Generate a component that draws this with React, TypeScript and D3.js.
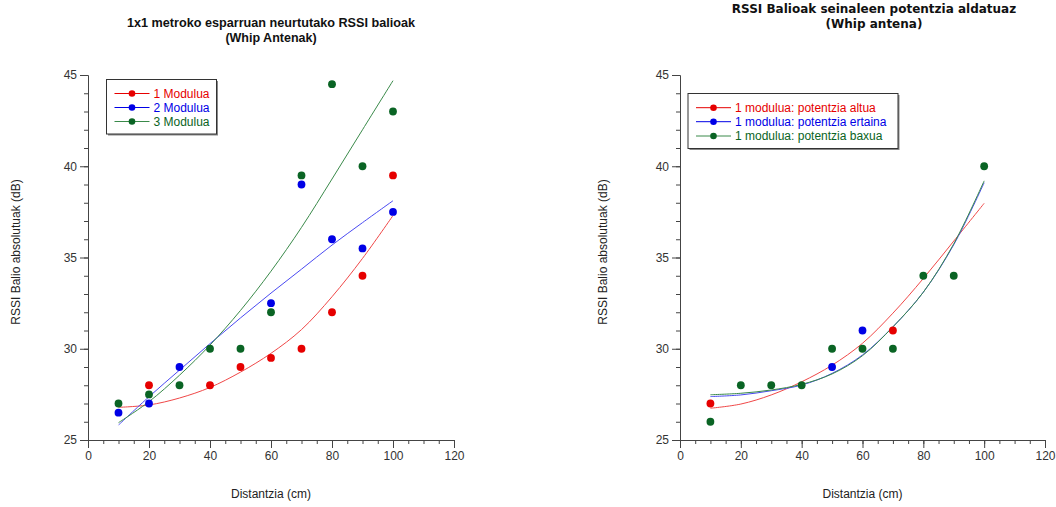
import React, { useEffect, useRef } from 'react';
import * as d3 from 'd3';

// ---------- shared axes ----------
const distances = [10, 20, 30, 40, 50, 60, 70, 80, 90, 100];
const xTicks = [0, 20, 40, 60, 80, 100, 120];
const yTicks = [25, 30, 35, 40, 45];
const xLabel = 'Distantzia (cm)';
const yLabel = 'RSSI Balio absolutuak (dB)';

// ---------- left chart ----------
const leftTitle = ['1x1 metroko esparruan neurtutako RSSI balioak', '(Whip Antenak)'];
const leftNames = ['1 Modulua', '2 Modulua', '3 Modulua'];
const modulua1 = [null, 28, null, 28, 29, 29.5, 30, 32, 34, 39.5];
const modulua2 = [26.5, 27, 29, null, null, 32.5, 39, 36, 35.5, 37.5];
const modulua3 = [27, 27.5, 28, 30, 30, 32, 39.5, 44.5, 40, 43];
// fitted curves
const modulua1Fit = [26.79, 26.92, 27.3, 27.88, 28.72, 29.75, 31.05, 32.85, 34.95, 37.3];
const modulua2Fit = [25.82, 27.37, 28.83, 30.28, 31.69, 33.05, 34.36, 35.68, 36.91, 38.11];
const modulua3Fit = [25.95, 27.1, 28.55, 30.2, 32.1, 34.25, 36.65, 39.3, 42.0, 44.69];

// ---------- right chart ----------
const rightTitle = ['RSSI Balioak seinaleen potentzia aldatuaz', '(Whip antena)'];
const rightNames = ['1 modulua: potentzia altua', '1 modulua: potentzia ertaina', '1 modulua: potentzia baxua'];
const altua = [27, null, null, null, null, null, 31, null, null, null];
const ertaina = [null, null, null, null, 29, 31, null, null, null, null];
const baxua = [26, 28, 28, 28, 30, 30, 30, 34, 34, 40];
const altuaFit = [26.74, 26.97, 27.47, 28.19, 29.1, 30.3, 31.95, 33.85, 35.9, 37.97];
const ertainaFit = [27.38, 27.47, 27.7, 28.01, 28.65, 29.66, 31.2, 33.1, 35.7, 39.1];
const baxuaFit = [27.48, 27.56, 27.74, 28.05, 28.62, 29.62, 31.2, 33.1, 35.75, 39.2];

const pointColors = ['#e60000', '#0000e6', '#0a6424'];
const lineColors = ['#f04848', '#4a4af2', '#3a8a4a'];
const legendLineColors = ['#e60000', '#0000e6', '#3a8a4a'];

const FONT = '"Liberation Sans", Arial, sans-serif';

type PanelProps = {
  x0: number;
  x1: number;
  yTop: number;
  yBottom: number;
  title: string[];
  titleX: number;
  titleY: number[];
  titleFont: string;
  titleSize: number;
  titleLength?: number;
  series: (number | null)[][];
  fits: number[][];
  names: string[];
  legend: { x: number; y: number; w: number; h: number; rowY: number[] };
  yLabelX: number;
};

function Panel(p: PanelProps) {
  const xAxisRef = useRef<SVGGElement>(null);
  const xMinorRef = useRef<SVGGElement>(null);
  const yAxisRef = useRef<SVGGElement>(null);
  const yMinorRef = useRef<SVGGElement>(null);

  const x = d3.scaleLinear().domain([0, 120]).range([p.x0, p.x1]);
  const y = d3.scaleLinear().domain([25, 45]).range([p.yBottom, p.yTop]);

  useEffect(() => {
    const xa = d3.axisBottom(x).tickValues(xTicks).tickSize(8).tickSizeOuter(0).tickPadding(3).tickFormat(d3.format('d'));
    const xm = d3.axisBottom(x).tickValues(d3.range(0, 121, 5)).tickSize(4).tickSizeOuter(0).tickFormat(() => '');
    const ya = d3.axisLeft(y).tickValues(yTicks).tickSize(8).tickSizeOuter(0).tickPadding(3).tickFormat(d3.format('d'));
    const ym = d3.axisLeft(y).tickValues(d3.range(25, 45.01, 1)).tickSize(4).tickSizeOuter(0).tickFormat(() => '');
    const style = (g: d3.Selection<SVGGElement, unknown, null, undefined>) => {
      g.selectAll('path').attr('stroke', '#444').attr('stroke-width', 1);
      g.selectAll('line').attr('stroke', '#444').attr('stroke-width', 1);
      g.selectAll('text').attr('fill', '#333').attr('font-size', 12).attr('font-family', FONT);
    };
    d3.select(xMinorRef.current!).call(xm as any).call(style as any);
    d3.select(xAxisRef.current!).call(xa as any).call(style as any);
    d3.select(yMinorRef.current!).call(ym as any).call(style as any);
    d3.select(yAxisRef.current!).call(ya as any).call(style as any);
  }, []);

  const line = d3
    .line<number>()
    .x((_, i) => x(distances[i]))
    .y((d) => y(d))
    .curve(d3.curveCatmullRom.alpha(0.5));

  const lg = p.legend;
  return (
    <g>
      {p.title.map((t, i) => (
        <text
          key={i}
          x={p.titleX}
          y={p.titleY[i]}
          textAnchor="middle"
          fontFamily={p.titleFont}
          fontWeight="bold"
          fontSize={p.titleSize}
          fill="#111"
          {...(i === 0 && p.titleLength ? { textLength: p.titleLength, lengthAdjust: 'spacingAndGlyphs' } : {})}
        >
          {t}
        </text>
      ))}
      <g ref={xMinorRef} transform={`translate(0,${p.yBottom})`} />
      <g ref={xAxisRef} transform={`translate(0,${p.yBottom})`} />
      <g ref={yMinorRef} transform={`translate(${p.x0},0)`} />
      <g ref={yAxisRef} transform={`translate(${p.x0},0)`} />
      <text x={(p.x0 + p.x1) / 2} y={498} textAnchor="middle" fontFamily={FONT} fontSize={12} fill="#222">
        {xLabel}
      </text>
      <text
        transform={`translate(${p.yLabelX},252) rotate(-90)`}
        textAnchor="middle"
        fontFamily={FONT}
        fontSize={12}
        fill="#222"
      >
        {yLabel}
      </text>
      {p.fits.map((f, i) => (
        <path key={'f' + i} d={line(f) || ''} fill="none" stroke={lineColors[i]} strokeWidth={1} />
      ))}
      {p.series.map((s, i) =>
        s.map((v, j) =>
          v == null ? null : (
            <circle key={`p${i}-${j}`} cx={x(distances[j])} cy={y(v)} r={3.9} fill={pointColors[i]} />
          )
        )
      )}
      <rect x={lg.x + 1.5} y={lg.y + 1.5} width={lg.w} height={lg.h} fill="#888" />
      <rect x={lg.x} y={lg.y} width={lg.w} height={lg.h} fill="#fff" stroke="#333" strokeWidth={1} />
      {p.names.map((n, i) => (
        <g key={'l' + i}>
          <line x1={lg.x + 8} x2={lg.x + 43} y1={lg.rowY[i]} y2={lg.rowY[i]} stroke={legendLineColors[i]} strokeWidth={1} />
          <circle cx={lg.x + 25.5} cy={lg.rowY[i]} r={3.3} fill={pointColors[i]} />
          <text x={lg.x + 47} y={lg.rowY[i] + 4.2} fontFamily={FONT} fontSize={12} fill={pointColors[i]}>
            {n}
          </text>
        </g>
      ))}
    </g>
  );
}

export default function App() {
  return (
    <svg width={1056} height={507} style={{ position: 'absolute', left: 0, top: 0, background: '#fff' }}>
      <rect x={0} y={0} width={1056} height={507} fill="#fff" />
      <Panel
        x0={88}
        x1={454}
        yTop={75}
        yBottom={440}
        title={leftTitle}
        titleX={271}
        titleY={[27, 42]}
        titleFont={FONT}
        titleSize={12.5}
        titleLength={288}
        series={[modulua1, modulua2, modulua3]}
        fits={[modulua1Fit, modulua2Fit, modulua3Fit]}
        names={leftNames}
        legend={{ x: 106.5, y: 79.5, w: 110, h: 54.5, rowY: [93.5, 107.5, 121.5] }}
        yLabelX={20}
      />
      <Panel
        x0={680}
        x1={1045}
        yTop={75}
        yBottom={440}
        title={rightTitle}
        titleX={874}
        titleY={[12.5, 28]}
        titleFont='"DejaVu Sans", Verdana, sans-serif'
        titleSize={12}
        series={[altua, ertaina, baxua]}
        fits={[altuaFit, ertainaFit, baxuaFit]}
        names={rightNames}
        legend={{ x: 688, y: 93.5, w: 210, h: 55, rowY: [107.7, 121.7, 136] }}
        yLabelX={607}
      />
    </svg>
  );
}
